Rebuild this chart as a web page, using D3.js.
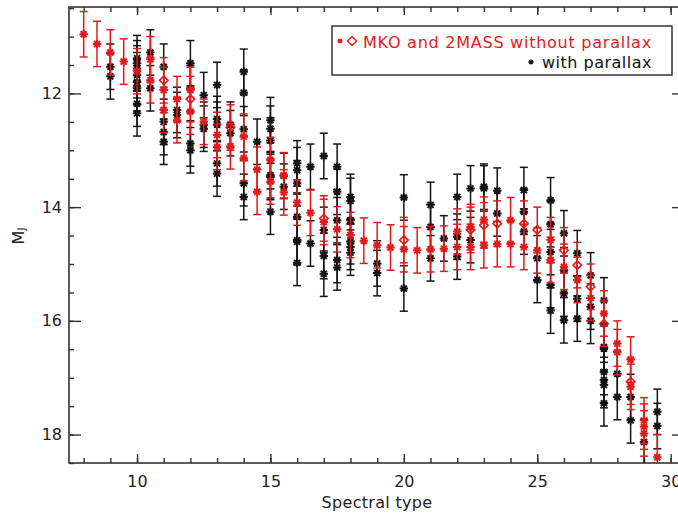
<!DOCTYPE html>
<html>
<head>
<meta charset="utf-8">
<script src="https://cdn.jsdelivr.net/npm/d3@7"></script>
<style>
  body { margin: 0; background: #fff; }
  svg { display: block; }
  text { font-family: "DejaVu Sans", sans-serif; }
</style>
</head>
<body>
<svg id="chart" width="678" height="517"></svg>
<script>
// Absolute J magnitude against spectral type (each entry: [type, M_J, error])
const withParallax = [
  [9, 11.53, 0.4], [9, 11.70, 0.4],
  [10, 11.38, 0.4], [10, 11.47, 0.4], [10, 11.56, 0.4], [10, 11.68, 0.4],
  [10, 11.80, 0.4], [10, 11.91, 0.4], [10, 12.18, 0.4], [10, 12.35, 0.4],
  [10.5, 11.28, 0.4], [10.5, 11.91, 0.4],
  [11, 11.53, 0.4], [11, 12.50, 0.4], [11, 12.68, 0.4], [11, 12.85, 0.4],
  [11.5, 12.29, 0.4], [11.5, 12.38, 0.4],
  [12, 11.47, 0.4], [12, 11.91, 0.4], [12, 12.88, 0.4], [12, 13.00, 0.4],
  [12.5, 12.03, 0.4], [12.5, 12.55, 0.4], [12.5, 12.62, 0.4],
  [13, 11.85, 0.4], [13, 12.45, 0.4], [13, 12.55, 0.4], [13, 13.23, 0.4], [13, 13.41, 0.4],
  [13.5, 12.55, 0.4], [13.5, 12.70, 0.4],
  [14, 11.62, 0.4], [14, 11.99, 0.4], [14, 12.63, 0.4], [14, 13.58, 0.4], [14, 13.82, 0.4],
  [14.5, 12.85, 0.4],
  [15, 12.47, 0.4], [15, 12.62, 0.4], [15, 12.83, 0.4], [15, 13.44, 0.4], [15, 13.47, 0.4], [15, 14.08, 0.4],
  [15.5, 13.45, 0.4], [15.5, 13.64, 0.4],
  [16, 13.23, 0.4], [16, 13.35, 0.4], [16, 13.58, 0.4], [16, 14.17, 0.4],
  [16, 14.58, 0.4], [16, 14.61, 0.4], [16, 14.98, 0.4],
  [16.5, 13.29, 0.4], [16.5, 14.64, 0.4],
  [17, 13.10, 0.4], [17, 14.40, 0.4], [17, 14.86, 0.4], [17, 15.17, 0.4],
  [17.5, 13.29, 0.4], [17.5, 13.73, 0.4], [17.5, 14.23, 0.4], [17.5, 14.93, 0.4], [17.5, 15.06, 0.4],
  [18, 13.82, 0.4], [18, 13.89, 0.4], [18, 14.23, 0.4], [18, 14.60, 0.4], [18, 14.70, 0.4], [18, 14.80, 0.4],
  [19, 14.99, 0.4], [19, 15.16, 0.4],
  [20, 13.83, 0.4], [20, 15.43, 0.4],
  [21, 13.96, 0.4], [21, 14.35, 0.4], [21, 14.90, 0.4],
  [21.5, 14.55, 0.4],
  [22, 13.82, 0.4], [22, 14.52, 0.4], [22, 14.87, 0.4],
  [22.5, 13.67, 0.4], [22.5, 14.58, 0.4],
  [23, 13.64, 0.4], [23, 13.67, 0.4],
  [23.5, 13.71, 0.4], [23.5, 14.11, 0.4],
  [24.5, 13.70, 0.4], [24.5, 14.08, 0.4], [24.5, 14.43, 0.4],
  [25, 14.90, 0.4], [25, 15.28, 0.4],
  [25.5, 13.88, 0.4], [25.5, 14.30, 0.4], [25.5, 14.79, 0.4], [25.5, 15.37, 0.4], [25.5, 15.82, 0.4],
  [26, 14.46, 0.4], [26, 15.11, 0.4], [26, 15.52, 0.4], [26, 15.99, 0.4],
  [26.5, 14.81, 0.4], [26.5, 15.61, 0.4], [26.5, 15.96, 0.4],
  [27, 15.20, 0.4], [27, 15.75, 0.4], [27, 16.00, 0.4],
  [27.5, 15.64, 0.4], [27.5, 16.46, 0.4], [27.5, 16.49, 0.4], [27.5, 16.90, 0.4],
  [27.5, 17.04, 0.4], [27.5, 17.13, 0.4], [27.5, 17.45, 0.4],
  [28, 16.93, 0.4], [28, 17.34, 0.4],
  [28.5, 17.34, 0.4], [28.5, 17.75, 0.4],
  [29, 18.13, 0.4],
  [29.5, 17.60, 0.4], [29.5, 17.85, 0.4]
];

// MKO estimates without parallax
const mkoNoParallax = [
  [8, 10.96, 0.4], [8.5, 11.13, 0.4], [9, 11.28, 0.4], [9.5, 11.44, 0.4],
  [10, 11.61, 0.4], [10.5, 11.40, 0.4], [10.5, 11.77, 0.4],
  [11, 11.94, 0.4], [11, 12.29, 0.4], [11.5, 12.10, 0.4], [11.5, 12.47, 0.4],
  [12, 11.94, 0.4], [12, 12.32, 0.4], [12.5, 12.50, 0.4],
  [13, 12.73, 0.4], [13, 12.94, 0.4], [13.5, 12.93, 0.4],
  [14, 12.76, 0.4], [14, 13.14, 0.4], [14.5, 13.34, 0.4], [14.5, 13.73, 0.4],
  [15, 13.17, 0.4], [15, 13.55, 0.4], [15.5, 13.44, 0.4], [15.5, 13.74, 0.4],
  [16, 13.92, 0.4], [16.5, 14.10, 0.4], [17, 14.26, 0.4], [17.5, 14.39, 0.4],
  [18, 14.49, 0.4], [18.5, 14.59, 0.4], [19, 14.67, 0.4], [19.5, 14.71, 0.4],
  [20, 14.74, 0.4], [20.5, 14.76, 0.4], [21, 14.74, 0.4], [21.5, 14.73, 0.4],
  [22, 14.43, 0.4], [22, 14.70, 0.4], [22.5, 14.35, 0.4], [22.5, 14.70, 0.4],
  [23, 14.22, 0.4], [23, 14.67, 0.4], [23.5, 14.65, 0.4],
  [24, 14.23, 0.4], [24, 14.65, 0.4], [24.5, 14.70, 0.4], [25, 14.76, 0.4],
  [25.5, 14.58, 0.4], [25.5, 14.93, 0.4], [26, 15.05, 0.4], [26.5, 15.28, 0.4],
  [27, 15.60, 0.4], [27.5, 15.87, 0.4], [28, 16.40, 0.4], [28, 16.55, 0.4],
  [28.5, 16.68, 0.4], [28.5, 17.16, 0.4],
  [29, 17.75, 0.4], [29, 17.86, 0.4], [29, 17.98, 0.4], [29.5, 18.40, 0.4]
];

// 2MASS estimates without parallax
const twoMassNoParallax = [
  [11, 11.77, 0.4], [12, 12.10, 0.4], [13.5, 12.60, 0.4], [17, 14.20, 0.4],
  [20, 14.58, 0.4], [22.5, 14.40, 0.4], [23, 14.32, 0.4], [23.5, 14.29, 0.4],
  [24.5, 14.29, 0.4], [25, 14.40, 0.4], [26, 14.76, 0.4], [26.5, 15.02, 0.4],
  [27, 15.40, 0.4], [27.5, 16.05, 0.4], [28.5, 17.07, 0.4]
];

const xMajorTicks = [10, 15, 20, 25, 30];
const yMajorTicks = [12, 14, 16, 18];
const xLabel = "Spectral type";
const legendRed = "MKO and 2MASS without parallax";
const legendBlack = "with parallax";

const RED = "#e3191c";
const INK = "#151515";
const AXIS = "#333";

const svg = d3.select("#chart");
const frame = { left: 69, right: 684, top: 7, bottom: 463 };

const x = d3.scaleLinear().domain([7.45, 30.5]).range([frame.left, frame.right]);
const y = d3.scaleLinear().domain([10.48, 18.5]).range([frame.top, frame.bottom]);

const xMinor = d3.range(8, 31, 1);
const yMinor = d3.range(10.5, 18.51, 0.5);

function styleAxis(g) {
  g.select(".domain").remove();
  g.selectAll(".tick line").attr("stroke", AXIS).attr("stroke-width", 1.4);
  g.selectAll(".tick text").attr("fill", "#222").attr("font-size", 16)
    .attr("font-family", "DejaVu Sans, sans-serif");
}

// bottom
svg.append("g").attr("transform", `translate(0,${frame.bottom})`)
  .call(d3.axisBottom(x).tickValues(xMinor).tickSize(-5).tickFormat(""))
  .call(styleAxis);
svg.append("g").attr("transform", `translate(0,${frame.bottom})`)
  .call(d3.axisBottom(x).tickValues(xMajorTicks).tickSizeInner(-9).tickSizeOuter(0).tickPadding(13).tickFormat(d3.format("d")))
  .call(styleAxis);
// top
svg.append("g").attr("transform", `translate(0,${frame.top})`)
  .call(d3.axisTop(x).tickValues(xMinor).tickSize(-5).tickFormat(""))
  .call(styleAxis);
svg.append("g").attr("transform", `translate(0,${frame.top})`)
  .call(d3.axisTop(x).tickValues(xMajorTicks).tickSize(-8).tickFormat(""))
  .call(styleAxis);
// left
svg.append("g").attr("transform", `translate(${frame.left},0)`)
  .call(d3.axisLeft(y).tickValues(yMinor).tickSize(-5).tickFormat(""))
  .call(styleAxis);
svg.append("g").attr("transform", `translate(${frame.left},0)`)
  .call(d3.axisLeft(y).tickValues(yMajorTicks).tickSizeInner(-12).tickSizeOuter(0).tickPadding(7).tickFormat(d3.format("d")))
  .call(styleAxis);
// right
svg.append("g").attr("transform", `translate(${frame.right},0)`)
  .call(d3.axisRight(y).tickValues(yMinor).tickSize(-5).tickFormat(""))
  .call(styleAxis);
svg.append("g").attr("transform", `translate(${frame.right},0)`)
  .call(d3.axisRight(y).tickValues(yMajorTicks).tickSize(-12).tickFormat(""))
  .call(styleAxis);

// frame
svg.append("rect")
  .attr("x", frame.left).attr("y", frame.top)
  .attr("width", frame.right - frame.left).attr("height", frame.bottom - frame.top)
  .attr("fill", "none").attr("stroke", AXIS).attr("stroke-width", 1.6);

// axis titles
svg.append("text")
  .attr("x", 377).attr("y", 508)
  .attr("text-anchor", "middle").attr("font-size", 16).attr("fill", "#222")
  .attr("letter-spacing", 0.3)
  .text(xLabel);

const yTitle = svg.append("text")
  .attr("transform", "translate(24,236) rotate(-90)")
  .attr("text-anchor", "middle").attr("font-size", 16).attr("fill", "#222");
yTitle.append("tspan").text("M");
yTitle.append("tspan").attr("font-size", 10).attr("dy", 1).text("J");

// data layer, clipped to the frame
svg.append("clipPath").attr("id", "plot-clip")
  .append("rect").attr("x", frame.left).attr("y", frame.top)
  .attr("width", frame.right - frame.left).attr("height", frame.bottom - frame.top);
const plot = svg.append("g").attr("clip-path", "url(#plot-clip)");

function starPath(r) {
  const d = r * 0.72;
  return `M${-r},0H${r}M0,${-r}V${r}M${-d},${-d}L${d},${d}M${-d},${d}L${d},${-d}`;
}
function diamondPath(r) {
  return `M0,${-r}L${r},0L0,${r}L${-r},0Z`;
}

const CAP = 4;

function errorBars(data, color) {
  const g = plot.append("g").attr("stroke", color).attr("stroke-width", 1.5).attr("fill", "none");
  const bar = g.selectAll("g").data(data).join("g");
  bar.append("line")
    .attr("x1", d => x(d[0])).attr("x2", d => x(d[0]))
    .attr("y1", d => y(d[1] - d[2])).attr("y2", d => y(d[1] + d[2]));
  bar.append("line")
    .attr("x1", d => x(d[0]) - CAP).attr("x2", d => x(d[0]) + CAP)
    .attr("y1", d => y(d[1] - d[2])).attr("y2", d => y(d[1] - d[2]));
  bar.append("line")
    .attr("x1", d => x(d[0]) - CAP).attr("x2", d => x(d[0]) + CAP)
    .attr("y1", d => y(d[1] + d[2])).attr("y2", d => y(d[1] + d[2]));
}

function markers(data, color, path, width) {
  plot.append("g").selectAll("path").data(data).join("path")
    .attr("transform", d => `translate(${x(d[0])},${y(d[1])})`)
    .attr("d", path)
    .attr("fill", "none").attr("stroke", color).attr("stroke-width", width);
}

errorBars(withParallax, INK);
markers(withParallax, INK, starPath(4.2), 2);
errorBars(mkoNoParallax, RED);
errorBars(twoMassNoParallax, RED);
markers(mkoNoParallax, RED, starPath(4.2), 2);
markers(twoMassNoParallax, RED, diamondPath(4.2), 1.6);

// legend
const legend = svg.append("g");
legend.append("rect")
  .attr("x", 332).attr("y", 26).attr("width", 340).attr("height", 49)
  .attr("fill", "#fff").attr("stroke", AXIS).attr("stroke-width", 1.5);
legend.append("path").attr("transform", "translate(340,41)")
  .attr("d", starPath(2.6)).attr("stroke", RED).attr("stroke-width", 1.4).attr("fill", "none");
legend.append("path").attr("transform", "translate(352,41)")
  .attr("d", diamondPath(4.5)).attr("stroke", RED).attr("stroke-width", 1.4).attr("fill", "none");
legend.append("text")
  .attr("x", 363).attr("y", 47.5).attr("font-size", 16).attr("fill", RED)
  .attr("letter-spacing", 0.75)
  .text(legendRed);
legend.append("text")
  .attr("x", 652).attr("y", 67.5).attr("font-size", 16).attr("fill", "#111")
  .attr("text-anchor", "end").attr("letter-spacing", 0.5)
  .text(legendBlack);
legend.append("path").attr("transform", "translate(531,62)")
  .attr("d", starPath(2.6)).attr("stroke", "#111").attr("stroke-width", 1.4).attr("fill", "none");
</script>
</body>
</html>
